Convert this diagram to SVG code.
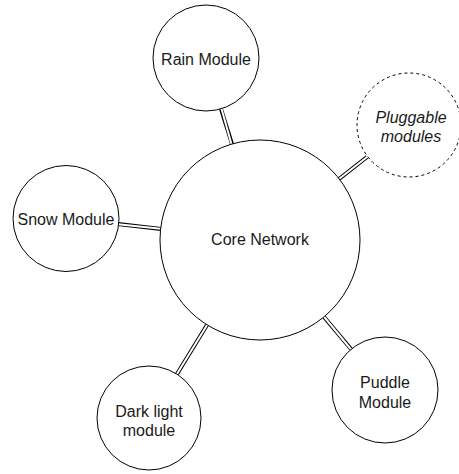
<svg xmlns="http://www.w3.org/2000/svg" width="459" height="474" viewBox="0 0 459 474">
<style>
.node{fill:#fff;stroke:#000;stroke-width:1}
.dash{stroke-dasharray:3 3}
.lbl{font-family:"Liberation Sans",Arial,sans-serif;font-size:16px;fill:#1a1a1a;text-anchor:middle}
.it{font-style:italic}
.lo{stroke:#000;stroke-width:4;fill:none}
.li{stroke:#fff;stroke-width:2;fill:none}
</style>
<rect width="459" height="474" fill="#fff"/>
<g id="connectors">
<line class="lo" x1="221" y1="109" x2="232" y2="144"/><line class="li" x1="221" y1="107" x2="232" y2="146"/>
<line class="lo" x1="367" y1="157" x2="339" y2="179"/><line class="li" x1="369" y1="155.5" x2="337" y2="180.5"/>
<line class="lo" x1="118" y1="224" x2="161" y2="229"/><line class="li" x1="116" y1="224" x2="163" y2="229"/>
<line class="lo" x1="177" y1="374" x2="207" y2="325"/><line class="li" x1="176" y1="375.5" x2="208" y2="323.5"/>
<line class="lo" x1="351" y1="349" x2="324" y2="317"/><line class="li" x1="352" y1="350.5" x2="323" y2="315.5"/>
</g>
<g id="core"><circle class="node" cx="260" cy="240" r="100"/><text class="lbl" x="260" y="245">Core Network</text></g>
<g id="rain"><circle class="node" cx="206" cy="58" r="53"/><text class="lbl" x="206" y="65">Rain Module</text></g>
<g id="pluggable"><circle class="node dash" cx="409" cy="125" r="52"/><text class="lbl it" x="411" y="123">Pluggable</text><text class="lbl it" x="411" y="142">modules</text></g>
<g id="snow"><circle class="node" cx="66" cy="218.5" r="53"/><text class="lbl" x="66" y="225">Snow Module</text></g>
<g id="darklight"><circle class="node" cx="149" cy="418" r="52"/><text class="lbl" x="149" y="417">Dark light</text><text class="lbl" x="149" y="436">module</text></g>
<g id="puddle"><circle class="node" cx="385" cy="390" r="53"/><text class="lbl" x="385" y="388">Puddle</text><text class="lbl" x="385" y="408">Module</text></g>
</svg>
